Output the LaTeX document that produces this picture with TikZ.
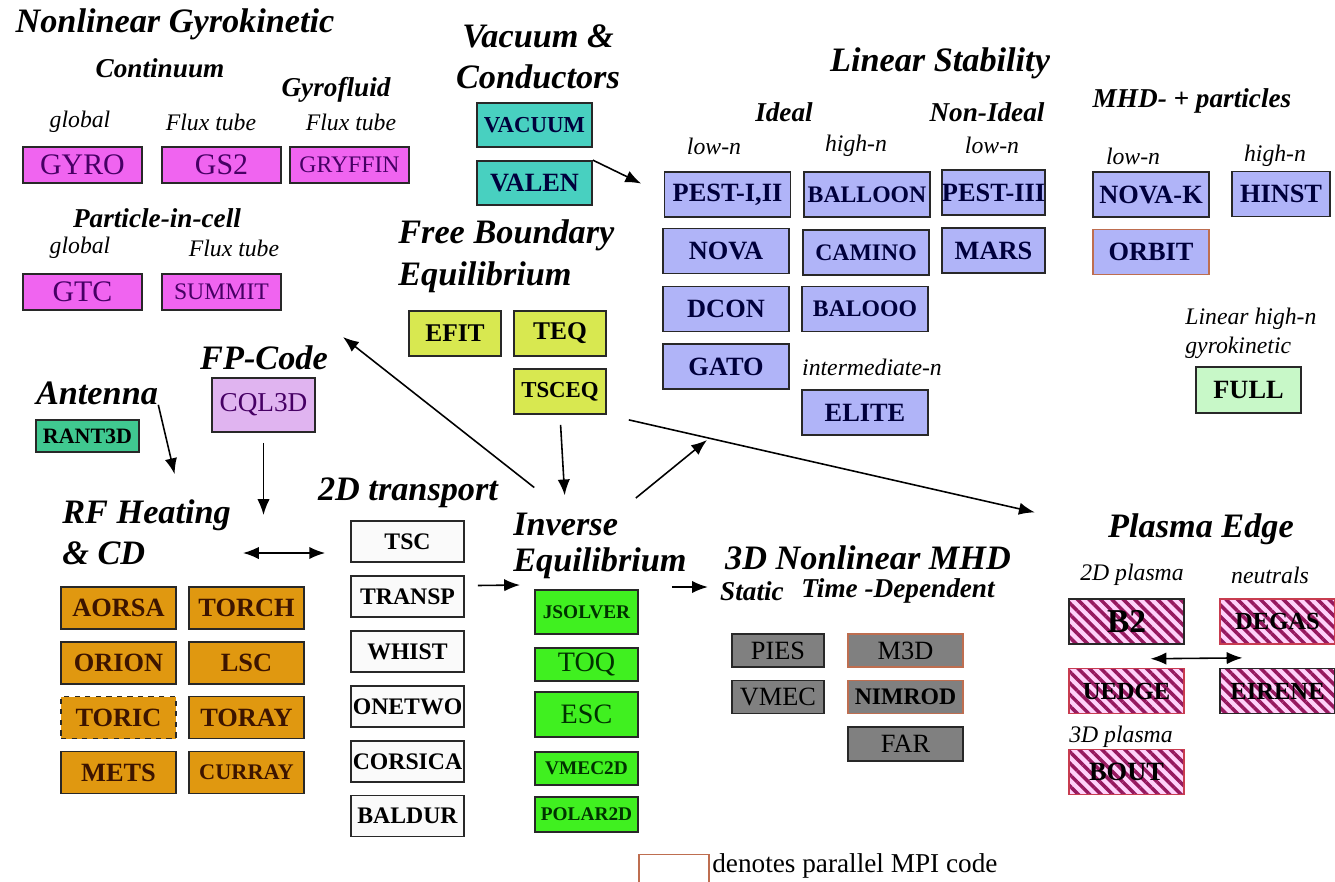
\documentclass[tikz,border=0pt]{standalone}
\usepackage{fontspec}
\setmainfont{Liberation Serif}
\definecolor{gkmagenta}{RGB}{240,100,240}
\definecolor{gktext}{RGB}{70,0,100}
\definecolor{vacteal}{RGB}{72,208,192}
\definecolor{lsblue}{RGB}{176,180,248}
\definecolor{lstext}{RGB}{0,0,60}
\definecolor{fullgreen}{RGB}{200,248,200}
\definecolor{fbyellow}{RGB}{216,232,80}
\definecolor{fpviolet}{RGB}{224,180,240}
\definecolor{antgreen}{RGB}{64,200,144}
\definecolor{rforange}{RGB}{224,152,16}
\definecolor{rftext}{RGB}{60,20,0}
\definecolor{trwhite}{RGB}{250,250,250}
\definecolor{iegreen}{RGB}{64,240,32}
\definecolor{ietext}{RGB}{0,50,0}
\definecolor{mhdgray}{RGB}{128,128,128}
\definecolor{edgepink}{RGB}{255,210,250}
\definecolor{edgestripe}{RGB}{150,25,95}
\definecolor{edgered}{RGB}{200,60,80}
\definecolor{mpiline}{RGB}{190,110,80}
\definecolor{boxline}{RGB}{40,40,40}
\usetikzlibrary{calc,arrows.meta,patterns.meta}

\begin{document}
\begin{tikzpicture}[x=0.02cm, y=-0.02cm,
    head/.style={inner sep=0pt, font=\fontsize{19.5}{23}\selectfont\bfseries\itshape},
    sub/.style={inner sep=0pt, font=\fontsize{15.5}{18}\selectfont\bfseries\itshape},
    note/.style={inner sep=0pt, font=\fontsize{13.5}{16}\selectfont\itshape},
    code/.style={rectangle, draw=boxline, line width=1pt, inner sep=0pt, font=\fontsize{15}{15}\selectfont\bfseries},
    gk/.style={code, fill=gkmagenta, text=gktext, font=\fontsize{17}{17}\selectfont, minimum width=2.38cm, minimum height=0.72cm},
    vac/.style={code, fill=vacteal, text=lstext, minimum width=2.3cm, minimum height=0.88cm},
    ls/.style={code, fill=lsblue, text=lstext, minimum width=2.52cm, minimum height=0.9cm},
    lsn/.style={ls, minimum width=2.06cm},
    fb/.style={code, fill=fbyellow, font=\fontsize{14.5}{15}\selectfont\bfseries, minimum width=1.84cm, minimum height=0.9cm},
    rf/.style={code, fill=rforange, text=rftext, minimum width=2.3cm, minimum height=0.84cm},
    tr/.style={code, fill=trwhite, font=\fontsize{13.5}{14}\selectfont\bfseries, minimum width=2.26cm, minimum height=0.82cm},
    ie/.style={code, fill=iegreen, text=ietext, font=\fontsize{11}{11}\selectfont\bfseries, minimum width=2.06cm},
    mhdbox/.style={code, fill=mhdgray, font=\fontsize{15}{15}\selectfont, minimum width=2.3cm, minimum height=0.66cm},
    edgebox/.style={code, preaction={fill=edgepink}, pattern={Lines[angle=-45,distance=4.6pt,line width=2pt]}, pattern color=edgestripe, font=\fontsize{14}{14}\selectfont\bfseries, minimum width=2.3cm, minimum height=0.9cm},
    arrow/.style={-{Latex[length=9pt,width=7pt]}, line width=0.9pt},
    dblarrow/.style={{Latex[length=9pt,width=7pt]}-{Latex[length=9pt,width=7pt]}, line width=0.9pt}
]
    \fill[white] (0,0) rectangle (1335,882);
    \useasboundingbox (0,0) rectangle (1335,882);

    \node[head] (gkhead) at (175,24) {Nonlinear Gyrokinetic};
    \node[sub] (cont) at (160,68) {Continuum};
    \node[sub] (gfluid) at (336,90) {Gyrofluid};
    \node[note] (glob1) at (80,122) {global};
    \node[note] (flux1) at (211,122) {Flux tube};
    \node[note] (flux2) at (351,122) {Flux tube};
    \node[gk] (gyro) at (82.5,165) {GYRO};
    \node[gk] (gs2) at (221.5,165) {GS2};
    \node[gk, font=\fontsize{13.5}{14}\selectfont] (gryffin) at (349.5,165) {GRYFFIN};
    \node[sub] (pic) at (157,218) {Particle-in-cell};
    \node[note] (glob2) at (80,248) {global};
    \node[note] (flux3) at (234,248) {Flux tube};
    \node[gk] (gtc) at (82.5,292) {GTC};
    \node[gk, font=\fontsize{13.5}{14}\selectfont] (summit) at (221.5,292) {SUMMIT};

    \node[head, align=center] (vachead) at (538,57) {Vacuum \&\\Conductors};
    \node[vac, font=\fontsize{13}{13}\selectfont\bfseries] (vacuum) at (534.5,125) {VACUUM};
    \node[vac] (valen) at (534.5,183) {VALEN};

    \node[head] (linstab) at (940,63) {Linear Stability};
    \node[sub] (ideal) at (784,112) {Ideal};
    \node[sub] (nonideal) at (987,112) {Non-Ideal};
    \node[note] (lown1) at (714,146) {low-n};
    \node[note] (highn1) at (856,146) {high-n};
    \node[note] (lown2) at (992,145) {low-n};
    \node[ls] (pest12) at (727.5,194.5) {PEST-I,II};
    \node[ls, font=\fontsize{13.5}{14}\selectfont\bfseries] (balloon) at (867,194.5) {BALLOON};
    \node[lsn] (pest3) at (993.5,192.5) {PEST-III};
    \node[ls] (nova) at (726,251) {NOVA};
    \node[ls, font=\fontsize{13.5}{14}\selectfont\bfseries] (camino) at (866,252.5) {CAMINO};
    \node[lsn] (mars) at (993.5,250.5) {MARS};
    \node[ls] (dcon) at (726,309) {DCON};
    \node[ls, font=\fontsize{13.5}{14}\selectfont\bfseries] (balooo) at (865,309) {BALOOO};
    \node[ls] (gato) at (726,366.5) {GATO};
    \node[note] (intn) at (872,367) {intermediate-n};
    \node[ls] (elite) at (865,412.5) {ELITE};

    \node[sub] (mhdp) at (1192,101) {MHD- + particles};
    \node[note] (lown3) at (1133,156) {low-n};
    \node[note] (highn2) at (1275,156) {high-n};
    \node[ls, minimum width=2.32cm] (novak) at (1151,194.5) {NOVA-K};
    \node[ls, minimum width=1.96cm] (hinst) at (1281,194) {HINST};
    \node[ls, minimum width=2.32cm, draw=mpiline] (orbit) at (1151,252) {ORBIT};
    \node[note, anchor=west] (lhn) at (1185,319) {Linear high-n};
    \node[note, anchor=west] (gyk) at (1185,348) {gyrokinetic};
    \node[code, fill=fullgreen, minimum width=2.1cm, minimum height=0.92cm] (full) at (1248.5,390) {FULL};

    \node[head, anchor=west] (fbe1) at (398,235) {Free Boundary};
    \node[head, anchor=west] (fbe2) at (398,277) {Equilibrium};
    \node[fb] (efit) at (455,333.5) {EFIT};
    \node[fb] (teq) at (560,333.5) {TEQ};
    \node[fb, font=\fontsize{13}{13}\selectfont\bfseries] (tsceq) at (560,391.5) {TSCEQ};

    \node[head] (fphead) at (264,358) {FP-Code};
    \node[code, fill=fpviolet, text=gktext, font=\fontsize{15.5}{16}\selectfont, minimum width=2.06cm, minimum height=1.08cm] (cql3d) at (263.5,405) {CQL3D};

    \node[head] (anthead) at (97,393) {Antenna};
    \node[code, fill=antgreen, font=\fontsize{12.5}{13}\selectfont\bfseries, minimum width=2.06cm, minimum height=0.64cm] (rant3d) at (87.5,436) {RANT3D};

    \node[head, anchor=west] (rf1) at (62,515) {RF Heating};
    \node[head, anchor=west] (rf2) at (62,553) {\& CD};
    \node[rf] (aorsa) at (118.5,608) {AORSA};
    \node[rf] (torch) at (246.5,608) {TORCH};
    \node[rf] (orion) at (118.5,663) {ORION};
    \node[rf] (lsc) at (246.5,663) {LSC};
    \node[rf, dashed] (toric) at (118.5,717.5) {TORIC};
    \node[rf] (toray) at (246.5,717.5) {TORAY};
    \node[rf] (mets) at (118.5,772.5) {METS};
    \node[rf, font=\fontsize{12.7}{13}\selectfont\bfseries] (curray) at (246.5,772.5) {CURRAY};

    \node[head] (trhead) at (408,493) {2D transport};
    \node[tr] (tsc) at (407.5,541.5) {TSC};
    \node[tr] (transp) at (407.5,596.5) {TRANSP};
    \node[tr] (whist) at (407.5,651.5) {WHIST};
    \node[tr] (onetwo) at (407.5,706.5) {ONETWO};
    \node[tr] (corsica) at (407.5,761.5) {CORSICA};
    \node[tr] (baldur) at (407.5,816) {BALDUR};

    \node[head, anchor=west] (inv1) at (513,524) {Inverse};
    \node[head, anchor=west] (inv2) at (513,563) {Equilibrium};
    \node[ie, minimum height=0.88cm] (jsolver) at (586.5,612) {JSOLVER};
    \node[ie, minimum height=0.66cm, font=\fontsize{16}{16}\selectfont] (toq) at (586.5,664.5) {TOQ};
    \node[ie, minimum height=0.9cm, font=\fontsize{16}{16}\selectfont] (esc) at (586.5,714.5) {ESC};
    \node[ie, minimum height=0.66cm] (vmec2d) at (586.5,768.5) {VMEC2D};
    \node[ie, minimum height=0.7cm] (polar2d) at (586.5,814.5) {POLAR2D};

    \node[head] (mhd) at (868,558) {3D Nonlinear MHD};
    \node[sub] (static) at (752,591) {Static};
    \node[sub] (timedep) at (898,591) {Time -Dependent};
    \node[mhdbox, minimum width=1.84cm] (pies) at (778,650.5) {PIES};
    \node[mhdbox, minimum width=1.84cm] (vmec) at (778,697) {VMEC};
    \node[mhdbox, draw=mpiline] (m3d) at (905.5,650.5) {M3D};
    \node[mhdbox, draw=mpiline, font=\fontsize{13.5}{14}\selectfont\bfseries] (nimrod) at (905.5,697) {NIMROD};
    \node[mhdbox, minimum height=0.68cm] (far) at (905.5,744) {FAR};

    \node[head] (pedge) at (1201,529) {Plasma Edge};
    \node[note] (p2d) at (1132,575) {2D plasma};
    \node[note] (neut) at (1270,575) {neutrals};
    \node[edgebox, font=\fontsize{19}{19}\selectfont\bfseries] (b2) at (1126.5,621.5) {B2};
    \node[edgebox, draw=edgered] (degas) at (1277.5,621.5) {DEGAS};
    \node[edgebox, draw=edgered] (uedge) at (1126.5,691) {UEDGE};
    \node[edgebox] (eirene) at (1277.5,691) {EIRENE};
    \node[note] (p3d) at (1121,737) {3D plasma};
    \node[edgebox, draw=edgered, font=\fontsize{15}{15}\selectfont\bfseries] (bout) at (1126.5,772) {BOUT};

    \node[draw=mpiline, line width=1pt, inner sep=0pt, minimum width=1.4cm, minimum height=0.7cm] (legbox) at (674,872) {};
    \node[anchor=west, inner sep=0pt, font=\fontsize{15.5}{16}\selectfont] (legtext) at (712,866) {denotes parallel MPI code};

    \coordinate (gkend) at (343,337);
    \coordinate (lsend) at (707,440);

    \draw[arrow, shorten >=0.5cm] (valen.north east) -- (pest12.west);
    \draw[arrow, shorten <=0.2cm, shorten >=0.34cm] (tsceq.south) -- (inv1.north);
    \draw[arrow, shorten <=0.8cm] (inv1.north) -- (gkend);
    \draw[arrow, shorten <=0.45cm] (inv1.north east) -- (lsend);
    \draw[arrow, shorten <=0.45cm, shorten >=1.5cm] (tsceq.south east) -- (pedge.west);
    \draw[arrow] (anthead.south east) -- ($(rf1.north)+(28,-25)$);
    \draw[arrow, shorten <=0.2cm] (cql3d.south) -- (cql3d.south |- rf1.east);
    \draw[dblarrow, shorten <=1.95cm, shorten >=0.5cm] (rf2.east) -- (tsc.west |- rf2.east);
    \draw[arrow] ($(transp.east)+(13,-11)$) -- ($(inv2.west)+(7,22)$);
    \draw[arrow] ($(inv2.east)+(-15,24)$) -- ($(mhd.west)+(-17,29)$);
    \draw[dblarrow] ($(b2.south)+(24,13)$) -- ($(degas.south)+(-35,13)$);
\end{tikzpicture}
\end{document}
